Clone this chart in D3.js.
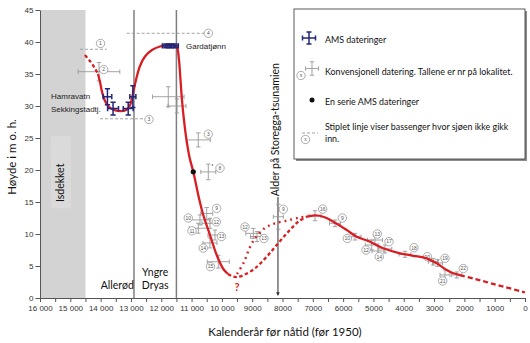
<!DOCTYPE html>
<html>
<head>
<meta charset="UTF-8">
<title>Strandforskyvning</title>
<style>
body { margin: 0; background: #fff; }
svg { display: block; }
.axis text { font: 8px "Liberation Sans", Arial, sans-serif; fill: #333; }
.axis path, .axis line { stroke: #555; }
.lbl { font-family: Lato, "Open Sans", sans-serif; fill: #111; }
.tag text { font: 5px "Liberation Sans", Arial, sans-serif; fill: #555; }
</style>
</head>
<body>
<svg width="530" height="343"></svg>
<script src="https://d3js.org/d3.v7.min.js"></script>
<script>
// ---- axes ----
const yearTicks = [16000, 15000, 14000, 13000, 12000, 11000, 10000, 9000, 8000, 7000, 6000, 5000, 4000, 3000, 2000, 1000, 0];
const yearTickLabels = ["16 000", "15 000", "14 000", "13 000", "12 000", "11 000", "10 000", "9000", "8000", "7000", "6000", "5000", "4000", "3000", "2000", "1000", "0"];
const heightTicks = [0, 5, 10, 15, 20, 25, 30, 35, 40, 45];

// ---- sea level curve [år, høyde] ----
const curveStart = [[14520, 37.97], [14330, 36.9], [14190, 35.9], [14087, 35.0]];
const curveEarly = [[14087, 35.0], [14020, 33.75], [13954, 32.2], [13855, 30.8], [13723, 29.84], [13559, 29.4],
  [13327, 29.2], [13129, 29.45], [13015, 30.3], [12933, 31.9], [12834, 34.06], [12702, 36.25], [12537, 37.73],
  [12306, 38.75], [12042, 39.3], [11778, 39.53], [11547, 39.45], [11481, 39.2], [11415, 37.2], [11365, 34.06],
  [11316, 30.94], [11250, 27.8], [11167, 24.7], [11068, 22.0], [10943, 19.73], [10755, 15.6], [10613, 12.97],
  [10392, 9.84], [10171, 6.72], [9953, 4.53], [9798, 3.75]];
const curveLowBranch = [[9798, 3.75], [9633, 3.36], [9480, 3.28], [9270, 3.6], [8907, 4.64], [8521, 6.45],
  [8191, 8.28], [7809, 10.36], [7479, 11.92], [7225, 12.66]];
const curveHighBranch = [[9501, 3.75], [9270, 5.63], [9072, 7.97], [8874, 9.53], [8577, 10.94], [8248, 11.67],
  [7852, 12.1], [7423, 12.58], [7159, 12.73]];
const curveLate = [[7225, 12.66], [6928, 12.9], [6631, 12.66], [6324, 11.92], [5882, 10.63], [5552, 9.58],
  [5113, 8.8], [4675, 7.77], [4124, 6.98], [3685, 6.6], [3243, 6.2], [2913, 5.42], [2583, 4.38], [2365, 3.86], [2144, 3.59]];
const curveEnd = [[2144, 3.59], [1650, 2.97], [1155, 2.34], [660, 1.72], [0, 0.86]];

// ---- AMS dates ----
const amsYear = [13775, 13590, 13090, 12937, 11848, 11700, 11551];
const amsHeight = [31.45, 29.6, 29.6, 31.45, 39.4, 39.4, 39.4];
const amsYearErr = [143, 180, 165, 100, 115, 115, 115];
const amsHeightErr = [1.25, 1.0, 1.0, 1.7, 0.3, 0.3, 0.3];
const amsSeries = [[10943, 19.73]];

// ---- conventional dates ----
const convYear = [14054, 11768, 11481, 10778, 10448, 10501, 10722, 10778, 10392, 10227, 10392, 10118, 8963, 8841,
  8138, 6928, 6268, 5608, 4949, 5057, 4619, 4849, 3959, 3025, 2887, 2639, 2253];
const convHeight = [35.36, 31.45, 30.0, 24.7, 19.7, 13.2, 12.2, 10.9, 11.67, 9.84, 8.6, 5.67, 10.1, 9.6,
  12.7, 12.86, 11.67, 9.58, 9.06, 8.28, 7.66, 7.34, 6.83, 5.67, 5.47, 3.6, 3.6];
const convYearErr = [687, 521, 297, 396, 247, 198, 330, 297, 264, 231, 231, 363, 247, 214,
  165, 198, 181, 198, 247, 214, 224, 198, 198, 165, 165, 165, 165];
const convHeightErr = [1.44, 1.56, 1.1, 1.1, 1.22, 0.94, 0.78, 0.78, 0.78, 0.78, 0.78, 1.0, 0.78, 0.78,
  1.95, 0.78, 0.52, 0.52, 0.63, 0.78, 0.63, 0.78, 0.47, 0.52, 0.52, 0.78, 0.47];

// locality numbers [år, høyde, nr]
const siteTags = [[13898, 35.7, "2"], [10448, 25.6, "3"], [10062, 20.3, "8"], [10171, 14.0, "9"], [11108, 12.5, "10"],
  [10986, 10.5, "11"], [10184, 11.9, "12"], [10013, 9.6, "13"], [10613, 7.8, "14"], [10375, 4.9, "15"],
  [9237, 11.1, "12"], [8610, 9.3, "13"], [7974, 13.86, "9"], [6674, 13.9, "16"], [6027, 12.5, "9"],
  [5862, 9.3, "10"], [4873, 10.0, "13"], [5245, 7.5, "12"], [4487, 8.8, "17"], [4807, 6.45, "14"],
  [3662, 7.86, "18"], [3223, 6.45, "20"], [2639, 6.2, "19"], [2715, 2.66, "21"], [2035, 4.6, "22"]];

// basins the sea never reached
const basinYearFrom = [14681, 14021, 13140];
const basinYearTo = [13800, 12480, 10557];
const basinHeight = [38.86, 28.0, 41.36];
const basinTags = [[14004, 39.77, "1"], [12404, 27.9, "3"], [10448, 41.36, "4"]];

const iceFrom = 16000, iceTo = 14500;
const periodBounds = [12900, 11500];
const storeggaYear = 8150;

const legendLabels = ["AMS dateringer", "Konvensjonell datering. Tallene er nr på lokalitet.",
  "En serie AMS dateringer", "Stiplet linje viser bassenger hvor sjøen ikke gikk", "inn."];

const red = "#d81e22", navy = "#22267a";

const svg = d3.select("svg");
const x = d3.scaleLinear().domain([16000, 0]).range([40, 525]);
const y = d3.scaleLinear().domain([0, 45]).range([298, 10]);

// ice covered area
svg.append("rect")
  .attr("x", x(iceFrom)).attr("y", y(45))
  .attr("width", x(iceTo) - x(iceFrom)).attr("height", y(0) - y(45))
  .attr("fill", "#d3d3d3");
svg.append("rect")
  .attr("x", x(15640)).attr("y", y(25.3))
  .attr("width", 20).attr("height", y(14) - y(25.3))
  .attr("fill", "#dadada");
svg.append("text").attr("class", "lbl")
  .attr("transform", `translate(${x(15330) + 3.5},${y(18)}) rotate(-90)`)
  .attr("text-anchor", "middle").attr("font-size", 10.5)
  .text("Isdekket");

// period boundaries
svg.selectAll("line.period").data(periodBounds).join("line")
  .attr("class", "period")
  .attr("x1", d => x(d)).attr("x2", d => x(d))
  .attr("y1", y(45)).attr("y2", y(0))
  .attr("stroke", "#7f7f7f").attr("stroke-width", 1.5);

// axes
const yAxis = svg.append("g").attr("class", "axis").attr("transform", `translate(${x(16000)},0)`);
yAxis.call(d3.axisLeft(y).tickValues(d3.range(0, 46)).tickSize(2.5).tickSizeOuter(0).tickFormat(""));
yAxis.call(d3.axisLeft(y).tickValues(heightTicks).tickSize(4.5).tickPadding(2).tickSizeOuter(0));

const xAxis = svg.append("g").attr("class", "axis").attr("transform", `translate(0,${y(0)})`);
xAxis.call(d3.axisBottom(x).tickValues(d3.range(0, 16001, 500)).tickSize(4).tickSizeOuter(0)
  .tickFormat(d => { const i = yearTicks.indexOf(d); return i < 0 ? "" : yearTickLabels[i]; }));

svg.append("text").attr("class", "lbl")
  .attr("transform", `translate(16,157) rotate(-90)`)
  .attr("text-anchor", "middle").attr("font-size", 11.5)
  .text("Høyde i m o. h.");
svg.append("text").attr("class", "lbl")
  .attr("x", 285).attr("y", 336)
  .attr("text-anchor", "middle").attr("font-size", 11.5)
  .text("Kalenderår før nåtid (før 1950)");

// period names
svg.append("text").attr("class", "lbl").attr("x", x(13450)).attr("y", 289)
  .attr("text-anchor", "middle").attr("font-size", 10.5).text("Allerød");
svg.append("text").attr("class", "lbl").attr("x", x(12200)).attr("y", 276)
  .attr("text-anchor", "middle").attr("font-size", 10.5).text("Yngre");
svg.append("text").attr("class", "lbl").attr("x", x(12200)).attr("y", 289)
  .attr("text-anchor", "middle").attr("font-size", 10.5).text("Dryas");

// Storegga arrow
svg.append("line")
  .attr("x1", x(storeggaYear)).attr("x2", x(storeggaYear))
  .attr("y1", y(15.8)).attr("y2", y(0.5))
  .attr("stroke", "#666").attr("stroke-width", 1.4);
svg.append("path")
  .attr("d", `M${x(storeggaYear) - 1.8},${y(0.9)} L${x(storeggaYear)},${y(0.3)} L${x(storeggaYear) + 1.8},${y(0.9)} Z`)
  .attr("fill", "#333");
svg.append("text").attr("class", "lbl")
  .attr("transform", `translate(${x(storeggaYear) + 1},${y(26.3)}) rotate(-90)`)
  .attr("text-anchor", "middle").attr("font-size", 10.5)
  .text("Alder på Storegga-tsunamien");

// error-bar cross
function cross(g, yr, h, ey, eh, color, width, cap) {
  const cx = x(yr), cy = y(h), x0 = x(yr + ey), x1 = x(yr - ey), y0 = y(h + eh), y1 = y(h - eh);
  const p = `M${x0},${cy}H${x1}M${cx},${y0}V${y1}` +
    `M${x0},${cy - cap}V${cy + cap}M${x1},${cy - cap}V${cy + cap}` +
    `M${cx - cap},${y0}H${cx + cap}M${cx - cap},${y1}H${cx + cap}`;
  g.append("path").attr("d", p).attr("stroke", color).attr("stroke-width", width).attr("fill", "none");
}

function tag(g, px, py, label) {
  const t = g.append("g").attr("class", "tag").attr("transform", `translate(${px},${py})`);
  t.append("circle").attr("r", 4.2).attr("fill", "#fff").attr("stroke", "#777").attr("stroke-width", 0.6);
  t.append("text").attr("text-anchor", "middle").attr("dy", "0.36em").text(label);
}

// basin lines
const basins = svg.append("g");
basinHeight.forEach((h, i) => {
  basins.append("line")
    .attr("x1", x(basinYearFrom[i])).attr("x2", x(basinYearTo[i]))
    .attr("y1", y(h)).attr("y2", y(h))
    .attr("stroke", "#999").attr("stroke-width", 0.9).attr("stroke-dasharray", "3,2");
});
basinTags.forEach(d => tag(basins, x(d[0]), y(d[1]), d[2]));

// conventional dates
const conv = svg.append("g");
convYear.forEach((yr, i) => cross(conv, yr, convHeight[i], convYearErr[i], convHeightErr[i], "#999", 0.9, 2.2));
siteTags.forEach(d => tag(conv, x(d[0]), y(d[1]), d[2]));
conv.append("circle").attr("cx", 212.5).attr("cy", 165).attr("r", 0.8).attr("fill", "#555");

// sea level curve
const line = d3.line().x(d => x(d[0])).y(d => y(d[1])).curve(d3.curveCatmullRom.alpha(0.5));
const curves = svg.append("g").attr("fill", "none").attr("stroke", red).attr("stroke-width", 2.3);
curves.append("path").attr("d", line(curveStart)).attr("stroke-dasharray", "3.5,2.5");
curves.append("path").attr("d", line(curveEarly));
curves.append("path").attr("d", line(curveLowBranch)).attr("stroke-dasharray", "3.5,2.5");
curves.append("path").attr("d", line(curveHighBranch)).attr("stroke-dasharray", "1.8,4").attr("stroke-width", 2.4);
curves.append("path").attr("d", line(curveLate));
curves.append("path").attr("d", line(curveEnd)).attr("stroke-dasharray", "5,3");

svg.append("text").attr("x", x(9500)).attr("y", 291)
  .attr("text-anchor", "middle").attr("font-size", 11).attr("font-weight", "bold")
  .attr("font-family", "Lato, sans-serif").attr("fill", red).text("?");

// AMS dates
const ams = svg.append("g");
amsYear.forEach((yr, i) => cross(ams, yr, amsHeight[i], amsYearErr[i], amsHeightErr[i], navy, 1.5, 2.6));
ams.selectAll("circle").data(amsSeries).join("circle")
  .attr("cx", d => x(d[0])).attr("cy", d => y(d[1])).attr("r", 2.6).attr("fill", "#111");

const siteFont = { size: 8, family: "'Liberation Sans', Arial, sans-serif" };
svg.append("text").attr("x", 186).attr("y", 49).attr("font-size", siteFont.size)
  .attr("font-family", siteFont.family).attr("fill", "#222").text("Gardatjønn");
svg.append("text").attr("x", 51).attr("y", 99).attr("font-size", siteFont.size)
  .attr("font-family", siteFont.family).attr("fill", "#222").text("Hamravatn");
svg.append("text").attr("x", 51).attr("y", 112).attr("font-size", siteFont.size)
  .attr("font-family", siteFont.family).attr("fill", "#222").text("Sekkingstadtj.");

// legend
const lg = svg.append("g");
lg.append("rect").attr("x", 296).attr("y", 11).attr("width", 231).attr("height", 150).attr("fill", "#8c8c8c");
lg.append("rect").attr("x", 294).attr("y", 9).attr("width", 231).attr("height", 150)
  .attr("fill", "#fff").attr("stroke", "#333").attr("stroke-width", 0.8);

const legendY = [40, 72, 102, 127, 139];
legendLabels.forEach((t, i) => {
  lg.append("text").attr("class", "lbl").attr("x", 325).attr("y", legendY[i] + 3)
    .attr("font-size", 8.9).text(t);
});
function legendCross(cx, cy, hw, hh, color, width, cap) {
  const p = `M${cx - hw},${cy}H${cx + hw}M${cx},${cy - hh}V${cy + hh}` +
    `M${cx - hw},${cy - cap}V${cy + cap}M${cx + hw},${cy - cap}V${cy + cap}` +
    `M${cx - cap},${cy - hh}H${cx + cap}M${cx - cap},${cy + hh}H${cx + cap}`;
  lg.append("path").attr("d", p).attr("stroke", color).attr("stroke-width", width).attr("fill", "none");
}
legendCross(309, 38, 6.5, 6, navy, 1.5, 2.5);
legendCross(312, 68.5, 6.5, 6.7, "#999", 0.9, 2.2);
tag(lg, 301, 75.5, "x");
lg.append("circle").attr("cx", 312).attr("cy", 100).attr("r", 2.5).attr("fill", "#111");
lg.append("line").attr("x1", 302).attr("x2", 318).attr("y1", 133).attr("y2", 133)
  .attr("stroke", "#999").attr("stroke-width", 0.9).attr("stroke-dasharray", "3,2");
tag(lg, 305.5, 139.5, "x");
</script>
</body>
</html>
